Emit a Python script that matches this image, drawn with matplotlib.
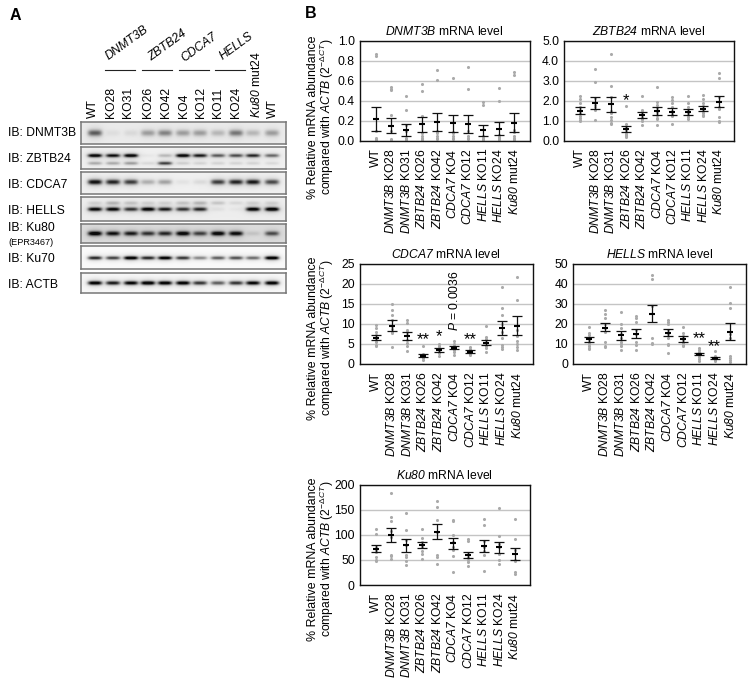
import numpy as np
import matplotlib
matplotlib.use("Agg")
import matplotlib.pyplot as plt

plt.rcParams['font.family'] = ['Liberation Sans', 'DejaVu Sans']
plt.rcParams['mathtext.fontset'] = 'custom'
plt.rcParams['mathtext.rm'] = 'Liberation Sans'
plt.rcParams['mathtext.it'] = 'Liberation Sans:italic'
plt.rcParams['mathtext.cal'] = 'Liberation Sans:italic'
plt.rcParams['mathtext.bf'] = 'Liberation Sans:bold'

W, H = 753, 685
FS = 8.7

# ---------- panel A data ----------
lanes = ['WT', 'KO28', 'KO31', 'KO26', 'KO42', 'KO4', 'KO12', 'KO11', 'KO24', r'$\mathcal{Ku80}$ mut24', 'WT']
group_names = ['DNMT3B', 'ZBTB24', 'CDCA7', 'HELLS']
blot_names = ['IB: DNMT3B', 'IB: ZBTB24', 'IB: CDCA7', 'IB: HELLS', 'IB: Ku80', 'IB: Ku70', 'IB: ACTB']
band_dnmt3b = [.55, .05, .07, .30, .40, .30, .30, .20, .45, .20, .30]
band_zbtb24 = [.95, .85, .95, .03, .20, .95, .80, .55, .60, .75, .50]
band_zbtb24_low = [.25, .25, .30, .08, .65, .12, .10, .10, .10, .10, .08]
band_cdca7 = [.90, .80, .70, .25, .30, .05, .08, .70, .80, .85, .65]
band_hells = [.90, .90, .70, .95, .80, .70, .75, .05, .03, .95, 1.0]
band_hells_up = [.10, .20, .15, .10, .10, .15, .20, .15, .08, .10, .10]
band_ku80 = [1.0, .85, .80, .70, .75, .95, .65, .95, .90, .10, .60]
band_ku70 = [.75, .65, 1.0, .75, .95, .70, .40, .55, .60, .50, 1.0]
band_actb = [.95, .80, .90, 1.0, .95, .95, .70, .55, .70, .90, .95]

# ---------- panel B data ----------
categories = ['WT', r'$\mathcal{DNMT3B}$ KO28', r'$\mathcal{DNMT3B}$ KO31', r'$\mathcal{ZBTB24}$ KO26',
              r'$\mathcal{ZBTB24}$ KO42', r'$\mathcal{CDCA7}$ KO4', r'$\mathcal{CDCA7}$ KO12',
              r'$\mathcal{HELLS}$ KO11', r'$\mathcal{HELLS}$ KO24', r'$\mathcal{Ku80}$ mut24']

dnmt3b_mean = [.22, .15, .11, .17, .19, .18, .17, .11, .12, .18]
dnmt3b_lo = [.10, .08, .05, .09, .10, .09, .08, .05, .06, .09]
dnmt3b_hi = [.34, .23, .17, .24, .28, .26, .26, .16, .19, .28]
dnmt3b_pts = [[.87, .85, .03, .02, .01, .02, .10], [.54, .52, .51, .26, .02, .01, .10],
              [.45, .31, .02, .01, .03, .10, .16], [.57, .50, .25, .08, .05, .03, .02, .01],
              [.71, .61, .10, .09, .05, .03, .02, .08], [.63, .09, .05, .03, .02, .08],
              [.74, .52, .10, .05, .03, .02], [.39, .36, .05, .03, .02, .01],
              [.53, .40, .06, .04, .03, .02, .01], [.69, .66, .11, .09, .05, .03, .02, .01]]

zbtb24_mean = [1.5, 1.9, 1.85, .6, 1.3, 1.5, 1.45, 1.45, 1.6, 1.95]
zbtb24_lo = [1.35, 1.6, 1.45, .45, 1.15, 1.3, 1.3, 1.3, 1.5, 1.7]
zbtb24_hi = [1.7, 2.2, 2.2, .75, 1.45, 1.7, 1.65, 1.6, 1.75, 2.25]
zbtb24_pts = [[2.25, 2.1, 1.9, 1.7, 1.55, 1.4, 1.25, 1.15, 1.05, 1.0], [3.6, 2.95, 2.15, 1.8, 1.7, 1.55, 1.05],
              [4.35, 2.75, 2.2, 1.5, 1.4, 1.2, 1.05, .9, .85], [1.75, .85, .7, .55, .45, .35, .3, .25, .2],
              [2.25, 1.55, 1.45, 1.35, 1.2, 1.1, 1.0, .8], [2.7, 1.95, 1.8, 1.65, 1.45, 1.3, 1.15, 1.1, .8],
              [2.2, 2.05, 1.9, 1.7, 1.5, 1.35, 1.25, .85], [2.25, 1.9, 1.7, 1.55, 1.4, 1.3, 1.2, 1.1],
              [2.3, 2.1, 1.9, 1.75, 1.6, 1.5, 1.4, 1.3, 1.25], [3.4, 3.15, 2.2, 1.7, 1.6, 1.2, 1.0, .95]]

cdca7_mean = [6.6, 9.6, 7.0, 2.1, 3.5, 4.1, 3.1, 5.3, 9.0, 9.6]
cdca7_lo = [5.9, 8.3, 5.9, 1.8, 3.0, 3.7, 2.8, 4.7, 7.3, 7.3]
cdca7_hi = [7.3, 10.9, 8.0, 2.4, 3.9, 4.4, 3.4, 5.9, 10.8, 11.9]
cdca7_pts = [[9.7, 9, 8, 7.3, 6.6, 6, 5.4, 4.8, 4.5], [15, 13.5, 12.3, 11, 9.5, 8.7, 8, 7.7, 4.2],
             [11, 10.2, 8.5, 8, 7.2, 6, 5.3, 4.5, 3.2], [4.5, 2.5, 2.2, 2, 1.7, 1.4, 1.1],
             [5, 4.5, 3.9, 3.4, 3, 2.7, 2.1], [5.8, 5, 4.5, 3.9, 3.5, 3, 2.3],
             [4.3, 3.8, 3.4, 3, 2.6, 2.2], [9.5, 6.7, 6.2, 5.5, 5, 4.5, 4, 3],
             [19.2, 14, 12.3, 10, 8, 6.5, 4.8, 4.2, 3.8], [21.7, 16, 8.5, 7, 5.8, 5, 4.3, 3.6]]

hells_mean = [12.4, 18.2, 14.3, 15.2, 25, 15.7, 12.5, 4.8, 3.2, 16.2]
hells_lo = [11, 16.5, 12.2, 12.8, 21, 13.8, 11.2, 4.3, 2.7, 12]
hells_hi = [13.6, 20.5, 16.5, 17.6, 29.5, 17.5, 13.8, 5.3, 3.7, 20.7]
hells_pts = [[18.5, 15.5, 14.5, 13, 12, 11, 10, 9, 8, 7.5], [27, 25, 23, 20, 18, 16, 11, 9, 8.5],
             [26, 20, 18, 15, 13, 11, 10, 9, 7], [24, 23, 21, 17, 15, 11, 9.5, 7],
             [44.5, 42.5, 29, 13, 10.5, 10], [22, 21, 20, 17, 15, 13, 10, 9.5, 5.5],
             [18.5, 15.5, 14, 13, 12, 11, 10.5, 9.5, 9], [7.8, 7, 6, 5, 4.5, 3.5, 2.5, 1.5],
             [6.5, 4, 3.2, 2.5, 2, 1.3], [38.5, 30.5, 28, 15, 13, 4, 3, 2, 1]]

ku80_mean = [72, 100, 79, 79, 106, 83, 60, 78, 75, 61]
ku80_lo = [65, 85, 66, 73, 91, 72, 53, 66, 63, 49]
ku80_hi = [79, 114, 92, 86, 121, 94, 66, 89, 86, 73]
ku80_pts = [[112, 102, 75, 70, 65, 55, 50, 47], [183, 135, 128, 108, 95, 60, 57, 52],
            [143, 110, 90, 80, 60, 55, 48, 40], [111, 93, 85, 80, 75, 68, 62, 52],
            [168, 156, 130, 105, 60, 55, 42], [130, 128, 100, 85, 75, 70, 58, 25],
            [92, 88, 62, 55, 50, 45, 37], [132, 120, 88, 75, 68, 60, 27],
            [153, 98, 82, 75, 62, 50, 42], [131, 92, 70, 50, 47, 25, 22]]

fig = plt.figure(figsize=(W / 100, H / 100), dpi=100)


def add_ax(x0, y0, x1, y1, **kw):
    return fig.add_axes([x0 / W, 1 - y1 / H, (x1 - x0) / W, (y1 - y0) / H], **kw)


# overlay in pixel coordinates for free text
ov = add_ax(0, 0, W, H)
ov.set_xlim(0, W)
ov.set_ylim(H, 0)
ov.axis('off')

ov.text(10, 15, 'A', fontsize=11.5, fontweight='bold', va='center')
ov.text(305, 13, 'B', fontsize=11.5, fontweight='bold', va='center')

# ---------- blots ----------
lane_x = np.array([95, 113, 131, 148, 165, 183, 200, 218, 236, 253, 272])
lane_lab_x = [93, 110.7, 128, 148, 166, 184, 201, 218, 236, 257, 273]
for x, lab in zip(lane_lab_x, lanes):
    ov.text(x, 118, lab, rotation=90, ha='center', va='bottom', fontsize=FS)
for (x0, x1), name, (cx, cy) in zip([(105, 135), (142, 172), (179, 209), (215, 245)], group_names,
                                    [(127, 43), (167, 45), (199, 47), (236, 46)]):
    ov.plot([x0, x1], [70, 70], color='#222222', lw=0.8)
    ov.text(cx, cy, name, rotation=36, ha='center', va='center', fontsize=FS, style='italic')

blots = [
    (122, 144, .92, [(band_dnmt3b, .50, 1.0, 3.0)]),
    (147, 169, .94, [(band_zbtb24, .39, 1.0, 1.7), (band_zbtb24_low, .74, 1.0, 1.6)]),
    (172, 194, .94, [(band_cdca7, .48, 1.0, 2.2)]),
    (197, 221, .93, [(band_hells, .51, 1.0, 1.9), (band_hells_up, .25, 1.0, 1.8)]),
    (224, 243, .86, [(band_ku80, .50, 1.0, 2.2)]),
    (246, 269, .98, [(band_ku70, .52, 1.0, 1.7)]),
    (273, 293, .97, [(band_actb, .50, 1.0, 1.9)]),
]
bx0, bx1 = 81, 286
for (y0, y1, bg, bands) in blots:
    ax = add_ax(bx0, y0, bx1, y1)
    xs = np.arange(bx0, bx1) + .5
    ys = np.arange(y0, y1) + .5
    X, Y = np.meshgrid(xs, ys)
    dark = np.zeros_like(X)
    for vals, frac, amp, sy in bands:
        yc = y0 + frac * (y1 - y0)
        for lx, v in zip(lane_x, vals):
            # dense core of the band plus a softer halo around it
            core = np.exp(-((X - lx) / 7.0) ** 4) * np.exp(-((Y - yc) / sy) ** 2)
            halo = np.exp(-((X - lx) / 8.5) ** 2) * np.exp(-((Y - yc) / (sy * 2.4)) ** 2)
            dark = dark + amp * v * (core + 0.18 * halo)
    dark = np.clip(dark, 0, 1)
    img = bg * (1 - dark) + 0.04 * dark
    ax.imshow(img, cmap='gray', vmin=0, vmax=1, extent=(bx0, bx1, y1, y0), aspect='auto',
              interpolation='bilinear')
    ax.set_xticks([])
    ax.set_yticks([])
    for s in ax.spines.values():
        s.set_color('#777777')
        s.set_linewidth(1.1)

for name, y in zip(blot_names, [133, 159, 185, 211, 228, 259, 285]):
    ov.text(8, y, name, va='center', ha='left', fontsize=FS)
ov.text(8, 242, '(EPR3467)', va='center', ha='left', fontsize=6.6)

# ---------- dot plots ----------
panels = [
    ((359.5, 40.5, 529.5, 140.5), r'$\mathcal{DNMT3B}$ mRNA level', dnmt3b_mean, dnmt3b_lo, dnmt3b_hi, dnmt3b_pts,
     (0, 1), np.arange(0, 1.01, .2), '%.1f', True, 117),
    ((564, 40.5, 734, 140.5), r'$\mathcal{ZBTB24}$ mRNA level', zbtb24_mean, zbtb24_lo, zbtb24_hi, zbtb24_pts,
     (0, 5), np.arange(0, 5.01, 1), '%.1f', False, None),
    ((359.5, 264, 533, 364), r'$\mathcal{CDCA7}$ mRNA level', cdca7_mean, cdca7_lo, cdca7_hi, cdca7_pts,
     (0, 25), np.arange(0, 26, 5), '%d', True, 338),
    ((573, 264, 746, 364), r'$\mathcal{HELLS}$ mRNA level', hells_mean, hells_lo, hells_hi, hells_pts,
     (0, 50), np.arange(0, 51, 10), '%d', False, None),
    ((359.5, 484.5, 530, 585), r'$\mathcal{Ku80}$ mRNA level', ku80_mean, ku80_lo, ku80_hi, ku80_pts,
     (0, 200), np.arange(0, 201, 50), '%d', True, 559),
]
axes = []
for box, title, mean, lo, hi, pts, ylim, ticks, fmt, ylab, ylab_c in panels:
    ax = add_ax(*box)
    axes.append(ax)
    x = np.arange(len(categories))
    ax.set_xlim(-1.04, 10)
    ax.set_ylim(*ylim)
    ax.set_yticks(ticks)
    ax.set_yticklabels([fmt % t for t in ticks], fontsize=FS)
    ax.set_xticks(x)
    ax.set_xticklabels(categories, rotation=90, fontsize=FS, ha='center', va='top')
    ax.tick_params(axis='x', length=0, pad=5.5)
    ax.tick_params(axis='y', length=0, pad=3.5)
    ax.yaxis.grid(True, color='#c4c4c4', lw=1.0)
    ax.set_axisbelow(True)
    for i, p in enumerate(pts):
        ax.scatter([i] * len(p), p, s=5, color='#aaaaaa', linewidths=0, zorder=2, clip_on=True)
    m, l, h = map(np.array, (mean, lo, hi))
    ax.errorbar(x, m, yerr=[m - l, h - m], fmt='none', ecolor='#111111', elinewidth=0.9,
                capsize=3.6, capthick=0.9, zorder=3)
    ax.scatter(x, m, marker='_', s=22, color='black', linewidths=1.5, zorder=4)
    ax.set_title(title, fontsize=FS, pad=4)
    for s in ax.spines.values():
        s.set_color('#111111')
        s.set_linewidth(1.0)
    if ylab:
        ov.text(313, ylab_c, '% Relative mRNA abundance', rotation=90, ha='center', va='center', fontsize=FS + 0.2)
        ov.text(327, ylab_c, r'compared with $\mathcal{ACTB}$ (2$^{-\Delta CT}$)', rotation=90,
                ha='center', va='center', fontsize=FS)

# significance marks
axes[1].text(3, 2.0, '*', ha='center', va='center', fontsize=12)
axes[2].text(3, 6.2, '**', ha='center', va='center', fontsize=12)
axes[2].text(4, 6.9, '*', ha='center', va='center', fontsize=12)
axes[2].text(6, 6.2, '**', ha='center', va='center', fontsize=12)
axes[2].text(5, 8.3, r'$\mathcal{P}$ = 0.0036', rotation=90, ha='center', va='bottom', fontsize=FS,
             clip_on=False)
axes[3].text(7, 12.6, '**', ha='center', va='center', fontsize=12)
axes[3].text(8, 8.8, '**', ha='center', va='center', fontsize=12)

ov.set_zorder(5)
fig.savefig('out.png', dpi=100, facecolor='white')
